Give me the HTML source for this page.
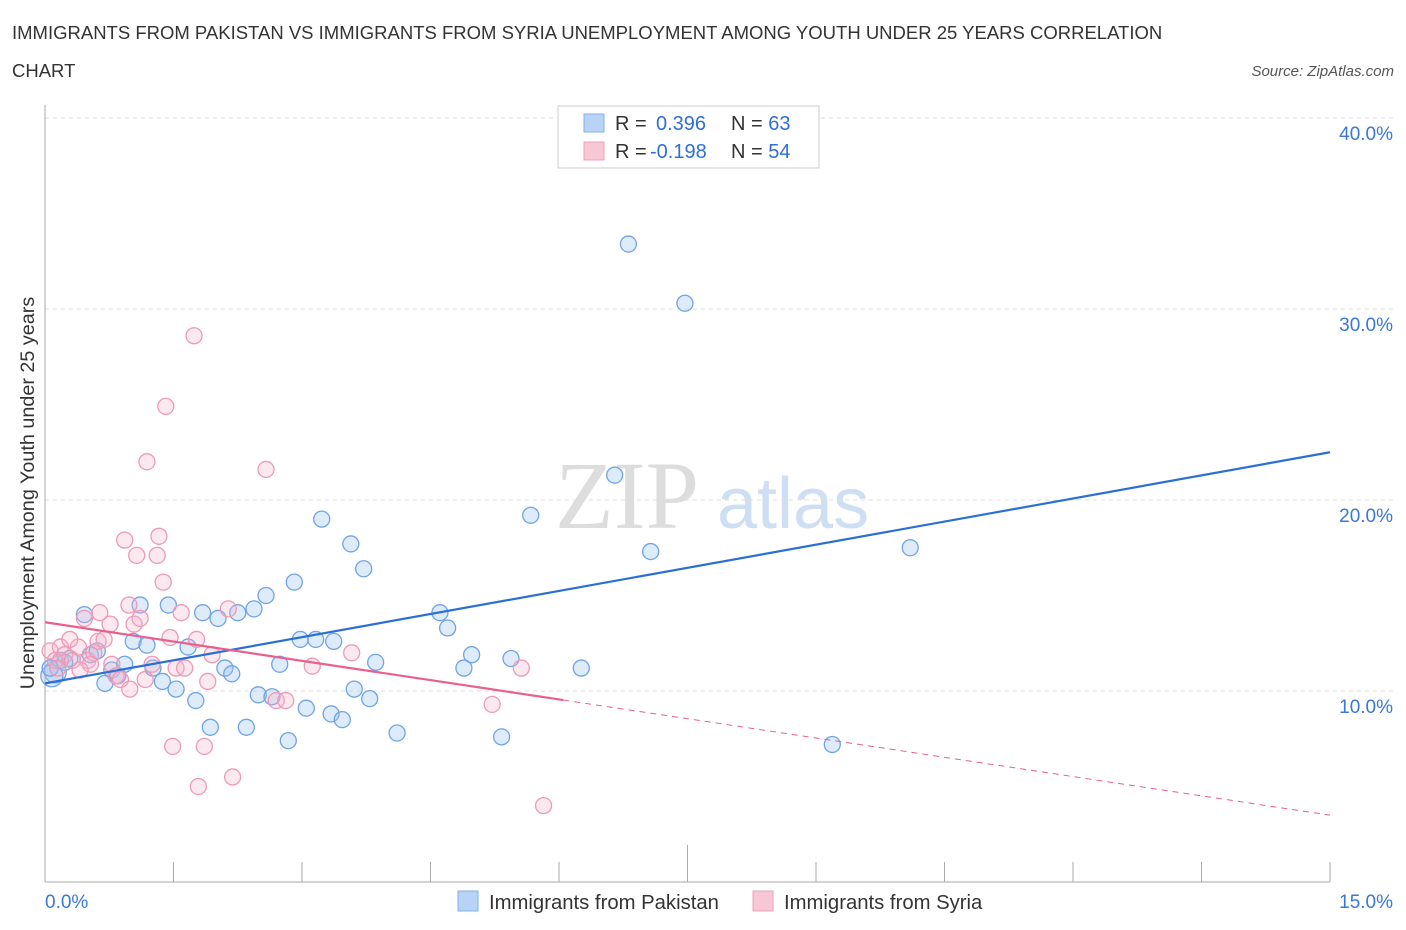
<!DOCTYPE html>
<html><head><meta charset="utf-8"><style>
body{margin:0;background:#fff;font-family:"Liberation Sans",sans-serif;}
</style></head><body>
<svg id="chart" width="1406" height="930" xmlns="http://www.w3.org/2000/svg" style="display:block">
<text x="12" y="39" font-size="18.5" fill="#333">IMMIGRANTS FROM PAKISTAN VS IMMIGRANTS FROM SYRIA UNEMPLOYMENT AMONG YOUTH UNDER 25 YEARS CORRELATION</text>
<text x="12" y="77" font-size="18.5" fill="#333">CHART</text>
<text x="1394" y="76" font-size="15" fill="#555" font-style="italic" text-anchor="end">Source: ZipAtlas.com</text>
<text transform="translate(34,493) rotate(-90)" font-size="19.8" fill="#333" text-anchor="middle">Unemployment Among Youth under 25 years</text>
<text x="555" y="528" font-size="96" fill="#ddd" font-family="Liberation Serif,serif">ZIP</text>
<text x="717" y="528" font-size="72" fill="#cfdff3">atlas</text>
<g id="grid"></g><g id="marks"></g><g id="lines"></g>
<g>
<rect x="558" y="106" width="261" height="62" fill="#fff" stroke="#ccc"/>
<rect x="584" y="114" width="20" height="18" fill="#b8d3f5" stroke="#7fb0e8"/>
<rect x="584" y="142" width="20" height="18" fill="#f8c7d6" stroke="#f0a0bb"/>
<text x="615" y="130" font-size="20" fill="#333">R = <tspan x="656" fill="#2f6fd6">0.396</tspan><tspan x="731">N = </tspan><tspan fill="#2f6fd6">63</tspan></text>
<text x="615" y="158" font-size="20" fill="#333">R = <tspan x="650" fill="#2f6fd6">-0.198</tspan><tspan x="731">N = </tspan><tspan fill="#2f6fd6">54</tspan></text>
</g>
<g>
<rect x="458" y="891" width="20" height="20" fill="#b8d3f5" stroke="#7fb0e8"/>
<text x="489" y="909" font-size="20.3" fill="#333">Immigrants from Pakistan</text>
<rect x="753" y="891" width="20" height="20" fill="#f8c7d6" stroke="#f0a0bb"/>
<text x="784" y="909" font-size="20.3" fill="#333">Immigrants from Syria</text>
</g>
<text x="45" y="908" font-size="19" fill="#3a78d8">0.0%</text>
<text x="1393" y="908" font-size="19" fill="#3a78d8" text-anchor="end">15.0%</text>
</svg>
<script>
const yTicks=[10,20,30,40];
const xTicks=[0,1.5,3,4.5,6,7.5,9,10.5,12,13.5,15];
const pakX=[0.12,0.08,0.18,0.29,0.46,0.53,0.61,0.70,0.78,0.85,0.93,1.03,1.11,1.19,1.26,1.37,1.44,1.53,1.67,1.76,1.84,1.93,2.02,2.10,2.18,2.25,2.35,2.44,2.49,2.58,2.65,2.74,2.84,2.91,2.98,3.05,3.16,3.23,3.34,3.37,3.47,3.57,3.61,3.72,3.79,3.86,4.11,4.61,4.70,4.89,4.98,5.33,5.44,5.67,6.26,6.65,6.81,7.07,7.47,9.19,10.10,0.06,0.23];
const pakY=[11.0,10.8,11.6,11.7,14.0,11.9,12.1,10.4,11.1,10.8,11.4,12.6,14.5,12.4,11.2,10.5,14.5,10.1,12.3,9.5,14.1,8.1,13.8,11.2,10.9,14.1,8.1,14.3,9.8,15.0,9.7,11.4,7.4,15.7,12.7,9.1,12.7,19.0,8.8,12.6,8.5,17.7,10.1,16.4,9.6,11.5,7.8,14.1,13.3,11.2,11.9,7.6,11.7,19.2,11.2,21.3,33.4,17.3,30.3,7.2,17.5,11.2,11.5];
const syrX=[0.06,0.12,0.18,0.23,0.32,0.39,0.46,0.50,0.57,0.62,0.69,0.76,0.83,0.88,0.93,0.98,1.04,1.07,1.11,1.17,1.19,1.25,1.31,1.33,1.38,1.41,1.46,1.53,1.59,1.63,1.74,1.77,1.79,1.86,1.90,1.95,2.14,2.19,2.58,2.70,2.81,3.12,3.58,5.22,5.56,5.82,1.49,0.64,0.29,0.15,0.78,0.99,0.53,0.41];
const syrY=[12.1,11.6,12.3,11.9,11.6,12.3,13.8,11.6,12.0,12.6,12.7,13.5,10.8,10.6,17.9,14.5,13.5,17.1,13.8,10.6,22.0,11.4,17.1,18.1,15.7,24.9,12.8,11.2,14.1,11.2,28.6,12.7,5.0,7.1,10.5,11.9,14.3,5.5,21.6,9.5,9.5,11.3,12.0,9.3,11.2,4.0,7.1,14.1,12.7,11.2,11.4,10.1,11.4,11.1];
const pakTrend=[10.4,22.5];
const syrTrend=[13.6,3.5];
const syrSolidEnd=6.05;
const NS="http://www.w3.org/2000/svg";
const X=v=>45+v/15*1285, Y=v=>882-v*19.1;
function mk(t,a,p){const e=document.createElementNS(NS,t);for(const k in a)e.setAttribute(k,a[k]);p.appendChild(e);return e;}
const g=document.getElementById('grid');
yTicks.forEach(t=>{
 const l=mk('line',{x1:45,x2:1393,y1:Y(t),y2:Y(t),stroke:'#ddd','stroke-dasharray':'4,4'},g);
 
 
 const tx=mk('text',{x:1393,y:Y(t)+22,'font-size':19,fill:'#3a78d8','text-anchor':'end'},g);
 tx.textContent=t.toFixed(1)+'%';
 
 
});
const ax=mk('line',{x1:45,x2:1330,y1:882,y2:882,stroke:'#aaa'},g);


const ay=mk('line',{x1:45,x2:45,y1:105,y2:882,stroke:'#aaa'},g);


xTicks.forEach(t=>{
 const l=mk('line',{x1:X(t),x2:X(t),y1:t==7.5?845:862,y2:882,stroke:'#aaa'},g);
 
 
});
const m=document.getElementById('marks');
pakX.forEach((x,i)=>{
 const c=mk('circle',{cx:X(x),cy:Y(pakY[i]),r:i<2?11:8,fill:'rgba(160,198,242,0.35)',stroke:'#6fa4e6','stroke-width':1.3},m);
 
 
});
syrX.forEach((x,i)=>{
 const c=mk('circle',{cx:X(x),cy:Y(syrY[i]),r:8,fill:'rgba(246,180,202,0.3)',stroke:'#ee9ab6','stroke-width':1.3},m);
 
 
});
const L=document.getElementById('lines');
const bl=mk('line',{x1:X(0),y1:Y(pakTrend[0]),x2:X(15),y2:Y(pakTrend[1]),stroke:'#2a6fd6','stroke-width':2.2},L);


const sy=v=>syrTrend[0]+(syrTrend[1]-syrTrend[0])*v/15;
const pl=mk('line',{x1:X(0),y1:Y(syrTrend[0]),x2:X(syrSolidEnd),y2:Y(sy(syrSolidEnd)),stroke:'#e8608e','stroke-width':2.2},L);


const pd=mk('line',{x1:X(syrSolidEnd),y1:Y(sy(syrSolidEnd)),x2:X(15),y2:Y(syrTrend[1]),stroke:'#e8608e','stroke-width':1,'stroke-dasharray':'6,5'},L);


</script>
</body></html>
